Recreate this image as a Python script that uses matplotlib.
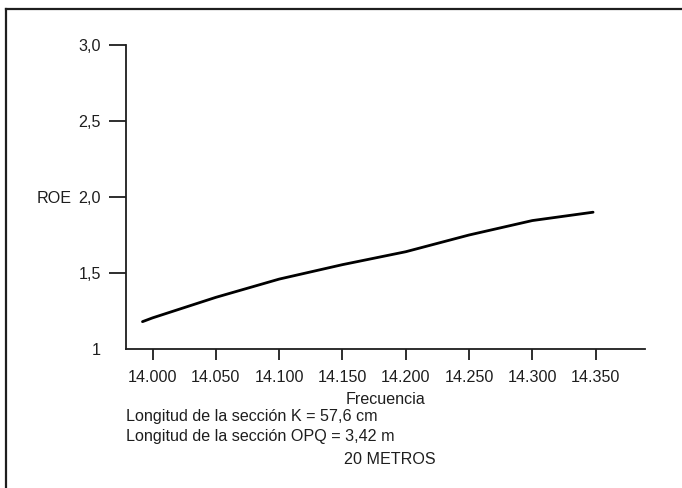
import matplotlib.pyplot as plt
from matplotlib.lines import Line2D

# values (20 m band)
freq = [13.992, 14.000, 14.050, 14.100, 14.150, 14.200, 14.250, 14.300, 14.348]
roe = [1.18, 1.205, 1.34, 1.46, 1.555, 1.64, 1.75, 1.845, 1.90]

xticks = [14.000, 14.050, 14.100, 14.150, 14.200, 14.250, 14.300, 14.350]
xlabels = ['14.000', '14.050', '14.100', '14.150', '14.200', '14.250', '14.300', '14.350']
yticks = [1, 1.5, 2.0, 2.5, 3.0]
ylabels = ['1', '1,5', '2,0', '2,5', '3,0']

notes = ['Longitud de la sección K = 57,6 cm',
         'Longitud de la sección OPQ = 3,42 m']

plt.rcParams['font.family'] = ['Liberation Sans', 'DejaVu Sans']
ink = '#1e1e1e'
fs = 11.6

fig = plt.figure(figsize=(6.82, 4.88), dpi=100)
ax = fig.add_axes([0.1848, 0.2848, 0.7609, 0.6230])

ax.plot(freq, roe, color='black', lw=2.0, solid_capstyle='round')

ax.set_xlim(13.979, 14.389)
ax.set_ylim(1, 3)
ax.set_xticks(xticks)
ax.set_xticklabels(xlabels)
ax.set_yticks(yticks)
ax.set_yticklabels(ylabels)

ax.spines['top'].set_visible(False)
ax.spines['right'].set_visible(False)
for s in ['left', 'bottom']:
    ax.spines[s].set_linewidth(1.3)
    ax.spines[s].set_color(ink)

ax.tick_params(axis='x', direction='out', length=8, width=1.3, pad=7,
               labelsize=fs, colors=ink)
ax.tick_params(axis='y', direction='out', length=12, width=1.3, pad=6,
               labelsize=fs, colors=ink)
ax.yaxis.get_major_ticks()[0].tick1line.set_visible(False)

ax.set_xlabel('Frecuencia', fontsize=fs, color=ink, labelpad=5)

fig.text(0.053, 1 - 198 / 488, 'ROE', fontsize=fs, color=ink, va='center')
fig.text(0.185, 1 - 416 / 488, notes[0], fontsize=fs, color=ink, va='center')
fig.text(0.185, 1 - 437 / 488, notes[1], fontsize=fs, color=ink, va='center')
fig.text(0.571, 1 - 460 / 488, '20 METROS', fontsize=fs, color=ink,
         va='center', ha='center')

# frame of the printed figure
fig.add_artist(Line2D([0.009, 0.009], [0, 0.982], transform=fig.transFigure,
                      color=ink, lw=1.6))
fig.add_artist(Line2D([0.009, 1.0], [0.982, 0.982], transform=fig.transFigure,
                      color=ink, lw=1.6))

fig.savefig('out.png', dpi=100)
